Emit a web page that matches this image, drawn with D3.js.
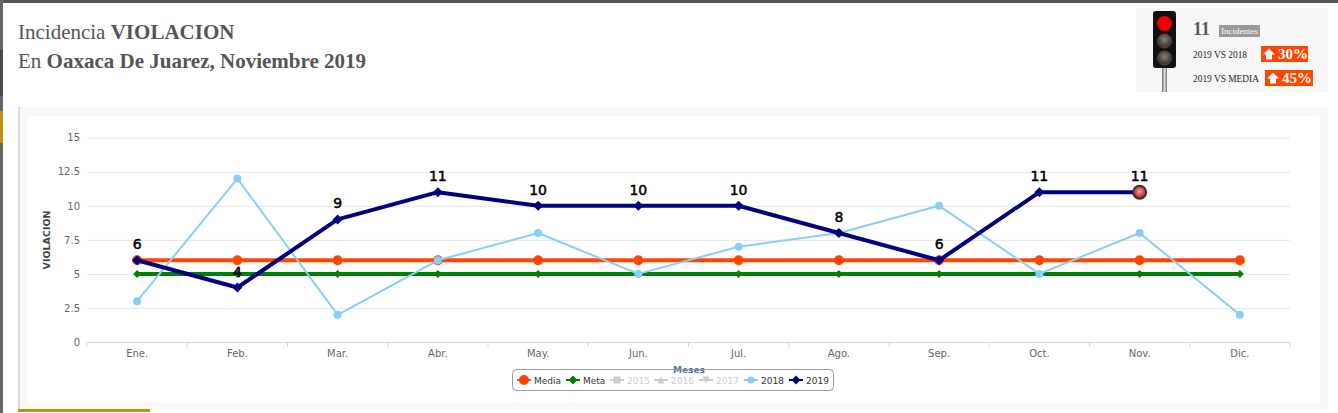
<!DOCTYPE html>
<html>
<head>
<meta charset="utf-8">
<script src="https://cdn.jsdelivr.net/npm/d3@7"></script>
<style>
  body { margin: 0; background: #fff; }
  svg { display: block; }
</style>
</head>
<body>
<div id="chart"></div>
<script>
// data
const months = ["Ene.", "Feb.", "Mar.", "Abr.", "May.", "Jun.", "Jul.", "Ago.", "Sep.", "Oct.", "Nov.", "Dic."];
const media = [6, 6, 6, 6, 6, 6, 6, 6, 6, 6, 6, 6];
const meta = [5, 5, 5, 5, 5, 5, 5, 5, 5, 5, 5, 5];
const y2018 = [3, 12, 2, 6, 8, 5, 7, 8, 10, 5, 8, 2];
const y2019 = [6, 4, 9, 11, 10, 10, 10, 8, 6, 11, 11];
const yTicks = [0, 2.5, 5, 7.5, 10, 12.5, 15];
const legendNames = ["Media", "Meta", "2015", "2016", "2017", "2018", "2019"];

const W = 1338, H = 413;
const plot = { left: 87, right: 1290, top: 137.7, bottom: 342 };

const svg = d3.select("#chart").append("svg")
    .attr("width", W)
    .attr("height", H);

const defs = svg.append("defs");
const grad = defs.append("radialGradient").attr("id", "hot").attr("cx", "50%").attr("cy", "45%").attr("r", "60%");
grad.append("stop").attr("offset", "0%").attr("stop-color", "#f0a0a0");
grad.append("stop").attr("offset", "100%").attr("stop-color", "#b80000");
const poleGrad = defs.append("linearGradient").attr("id", "pole");
poleGrad.append("stop").attr("offset", "0%").attr("stop-color", "#666");
poleGrad.append("stop").attr("offset", "50%").attr("stop-color", "#ddd");
poleGrad.append("stop").attr("offset", "100%").attr("stop-color", "#777");
const lampGrad = defs.append("radialGradient").attr("id", "lamp").attr("cx", "50%").attr("cy", "40%").attr("r", "60%");
lampGrad.append("stop").attr("offset", "0%").attr("stop-color", "#8a7f6a");
lampGrad.append("stop").attr("offset", "100%").attr("stop-color", "#2a2a2a");

// page chrome
svg.append("rect").attr("x", 0).attr("y", 0).attr("width", W).attr("height", 3).attr("fill", "#555");
svg.append("rect").attr("x", 0).attr("y", 0).attr("width", 3).attr("height", H).attr("fill", "#666");
svg.append("rect").attr("x", 0).attr("y", 50).attr("width", 3).attr("height", 46).attr("fill", "#4a4a4a");
svg.append("rect").attr("x", 0).attr("y", 111).attr("width", 3).attr("height", 32).attr("fill", "#b8960c");

// title
const title = svg.append("g")
    .style("font-family", "'Liberation Serif', 'Times New Roman', serif")
    .style("font-size", "21px")
    .attr("fill", "#555");
const t1 = title.append("text").attr("x", 18).attr("y", 39);
t1.append("tspan").text("Incidencia ");
t1.append("tspan").attr("font-weight", "bold").text("VIOLACION");
const t2 = title.append("text").attr("x", 18).attr("y", 68);
t2.append("tspan").text("En ");
t2.append("tspan").attr("font-weight", "bold").text("Oaxaca De Juarez, Noviembre 2019");

// summary box top right
const box = svg.append("g").style("font-family", "'Liberation Serif', 'Times New Roman', serif");
box.append("rect").attr("x", 1136).attr("y", 8).attr("width", 192).attr("height", 84).attr("fill", "#f7f7f7");
box.append("rect").attr("x", 1162).attr("y", 66).attr("width", 5).attr("height", 26).attr("fill", "url(#pole)");
box.append("rect").attr("x", 1153).attr("y", 11).attr("width", 23).attr("height", 57).attr("rx", 3).attr("fill", "#111");
box.append("circle").attr("cx", 1164.5).attr("cy", 23.5).attr("r", 7.5).attr("fill", "#f00000");
box.append("circle").attr("cx", 1164.5).attr("cy", 41).attr("r", 7).attr("fill", "url(#lamp)").attr("stroke", "#555").attr("stroke-width", 0.8);
box.append("circle").attr("cx", 1164.5).attr("cy", 58).attr("r", 7).attr("fill", "url(#lamp)").attr("stroke", "#555").attr("stroke-width", 0.8);

box.append("text").attr("x", 1193).attr("y", 35).attr("font-size", "18px").attr("font-weight", "bold")
    .attr("fill", "#555").text("11");
box.append("rect").attr("x", 1219).attr("y", 25).attr("width", 41).attr("height", 12).attr("fill", "#999");
box.append("text").attr("x", 1239.5).attr("y", 34).attr("text-anchor", "middle").attr("font-size", "9px")
    .attr("fill", "#fff").text("Incidentes");

const badges = [
    { label: "2019 VS 2018", pct: "30%", y: 58, bx: 1261, bw: 47, by: 46 },
    { label: "2019 VS MEDIA", pct: "45%", y: 82, bx: 1265, bw: 48, by: 70 },
];
badges.forEach(b => {
    box.append("text").attr("x", 1193).attr("y", b.y).attr("font-size", "9.4px").attr("fill", "#222").text(b.label);
    box.append("rect").attr("x", b.bx).attr("y", b.by).attr("width", b.bw).attr("height", 16).attr("fill", "#ff4500");
    const ax = b.bx + 8, ay = b.by + 2.5;
    box.append("path")
        .attr("d", `M${ax},${ay} L${ax + 6},${ay + 6} L${ax + 3},${ay + 6} L${ax + 3},${ay + 11} L${ax - 3},${ay + 11} L${ax - 3},${ay + 6} L${ax - 6},${ay + 6} Z`)
        .attr("fill", "#fff");
    box.append("text").attr("x", b.bx + 17).attr("y", b.by + 13).attr("font-size", "15px").attr("font-weight", "bold")
        .attr("fill", "#fff").text(b.pct);
});

// chart panel
svg.append("rect").attr("x", 18).attr("y", 107).attr("width", 1310).attr("height", 303).attr("fill", "#f8f8f8");
svg.append("rect").attr("x", 18).attr("y", 107).attr("width", 2).attr("height", 303).attr("fill", "#ddd");
svg.append("rect").attr("x", 27).attr("y", 116).attr("width", 1293).attr("height", 287).attr("rx", 3).attr("fill", "#fff");
svg.append("rect").attr("x", 18).attr("y", 409).attr("width", 132).attr("height", 3).attr("fill", "#b8960c");

// scales
const x = d3.scaleBand().domain(months).range([plot.left, plot.right]).padding(0);
const cx = m => x(m) + x.bandwidth() / 2;
const y = d3.scaleLinear().domain([0, 15]).range([plot.bottom, plot.top]);

// grid + y labels
const yAxis = svg.append("g")
    .attr("transform", `translate(${plot.left},0)`)
    .call(d3.axisLeft(y).tickValues(yTicks).tickSize(-(plot.right - plot.left)).tickPadding(7).tickFormat(d => d));
yAxis.select(".domain").remove();
yAxis.selectAll(".tick line").attr("stroke", "#e6e6e6");
yAxis.selectAll(".tick text")
    .attr("fill", "#666").style("font-family", "'DejaVu Sans', Verdana, sans-serif").style("font-size", "10px");

// x axis
const xAxis = svg.append("g")
    .attr("transform", `translate(0,${plot.bottom})`)
    .call(d3.axisBottom(x).tickSize(0).tickPadding(8));
xAxis.select(".domain").attr("stroke", "#ccd6eb");
xAxis.selectAll(".tick text")
    .attr("fill", "#666").style("font-family", "'DejaVu Sans', Verdana, sans-serif").style("font-size", "10px");
xAxis.selectAll(".sep")
    .data(months.concat([null]))
    .join("line")
    .attr("class", "sep")
    .attr("x1", d => d === null ? plot.right : x(d))
    .attr("x2", d => d === null ? plot.right : x(d))
    .attr("y1", 0).attr("y2", 5)
    .attr("stroke", "#ccd6eb");

// axis titles
svg.append("text")
    .attr("transform", `translate(50,240) rotate(-90)`)
    .attr("text-anchor", "middle")
    .style("font-family", "'DejaVu Sans', Verdana, sans-serif")
    .style("font-size", "9.5px").style("font-weight", "bold")
    .attr("fill", "#444")
    .text("VIOLACION");

// series
const series = [
    { name: "Media", values: media, color: "#ff4500", width: 4, marker: "circle", r: 5 },
    { name: "Meta", values: meta, color: "#008000", width: 4, marker: "diamond", r: 4 },
    { name: "2018", values: y2018, color: "#87cefa", width: 2, marker: "circle", r: 4 },
    { name: "2019", values: y2019, color: "#000080", width: 4, marker: "diamond", r: 5 },
];

const line = d3.line().x((d, i) => cx(months[i])).y(d => y(d));

function drawMarker(g, type, r, color) {
    if (type === "circle") {
        g.append("circle").attr("r", r).attr("fill", color);
    } else if (type === "diamond") {
        g.append("path").attr("d", `M0,${-r} L${r},0 L0,${r} L${-r},0 Z`).attr("fill", color);
    } else if (type === "square") {
        g.append("rect").attr("x", -r).attr("y", -r).attr("width", 2 * r).attr("height", 2 * r).attr("fill", color);
    } else if (type === "triangle") {
        g.append("path").attr("d", `M0,${-r} L${r},${r} L${-r},${r} Z`).attr("fill", color);
    } else if (type === "triangle-down") {
        g.append("path").attr("d", `M${-r},${-r} L${r},${-r} L0,${r} Z`).attr("fill", color);
    }
}

const chart = svg.append("g");
series.forEach(s => {
    const g = chart.append("g");
    g.append("path")
        .datum(s.values)
        .attr("d", line)
        .attr("fill", "none")
        .attr("stroke", s.color)
        .attr("stroke-width", s.width)
        .attr("stroke-linejoin", "round");
    s.values.forEach((v, i) => {
        const mg = g.append("g").attr("transform", `translate(${cx(months[i])},${y(v)})`);
        drawMarker(mg, s.marker, s.r, s.color);
    });
});

// current month highlighted
const last = y2019.length - 1;
chart.append("circle")
    .attr("cx", cx(months[last]))
    .attr("cy", y(y2019[last]))
    .attr("r", 6.5)
    .attr("fill", "url(#hot)")
    .attr("stroke", "#333")
    .attr("stroke-width", 2);

// data labels for 2019
chart.append("g")
    .selectAll("text")
    .data(y2019)
    .join("text")
    .attr("x", (d, i) => cx(months[i]))
    .attr("y", d => y(d) - 11)
    .attr("text-anchor", "middle")
    .style("font-family", "'DejaVu Sans', Verdana, sans-serif")
    .style("font-size", "14px")
    .attr("fill", "#000")
    .attr("stroke", "#000")
    .attr("stroke-width", 0.5)
    .text(d => d);

// x axis title
svg.append("text")
    .attr("x", 689).attr("y", 373)
    .attr("text-anchor", "middle")
    .style("font-family", "'DejaVu Sans', Verdana, sans-serif")
    .style("font-size", "9px").style("font-weight", "bold")
    .attr("fill", "#4d759e")
    .text("Meses");

// legend
const legendSymbols = {
    "Media": { marker: "circle", color: "#ff4500", r: 5, on: true },
    "Meta": { marker: "diamond", color: "#008000", r: 4.5, on: true },
    "2015": { marker: "square", color: "#ccc", r: 3.5, on: false },
    "2016": { marker: "triangle", color: "#ccc", r: 3.5, on: false },
    "2017": { marker: "triangle-down", color: "#ccc", r: 3.5, on: false },
    "2018": { marker: "circle", color: "#87cefa", r: 3.5, on: true },
    "2019": { marker: "diamond", color: "#000080", r: 4.5, on: true },
};
const legendX = [524, 573, 617, 661, 706, 751, 796];
const legend = svg.append("g");
legend.append("rect")
    .attr("x", 512.5).attr("y", 369.5).attr("width", 321).attr("height", 21).attr("rx", 4)
    .attr("fill", "none").attr("stroke", "#999");
legendNames.forEach((name, i) => {
    const s = legendSymbols[name];
    const lx = legendX[i], ly = 380;
    legend.append("line")
        .attr("x1", lx - 7).attr("x2", lx + 7).attr("y1", ly).attr("y2", ly)
        .attr("stroke", s.color).attr("stroke-width", 2);
    const mg = legend.append("g").attr("transform", `translate(${lx},${ly})`);
    drawMarker(mg, s.marker, s.r, s.color);
    legend.append("text")
        .attr("x", lx + 10).attr("y", ly + 3.5)
        .style("font-family", "'DejaVu Sans', Verdana, sans-serif")
        .style("font-size", "9px")
        .attr("fill", s.on ? "#333" : "#ccc")
        .text(name);
});
</script>
</body>
</html>
